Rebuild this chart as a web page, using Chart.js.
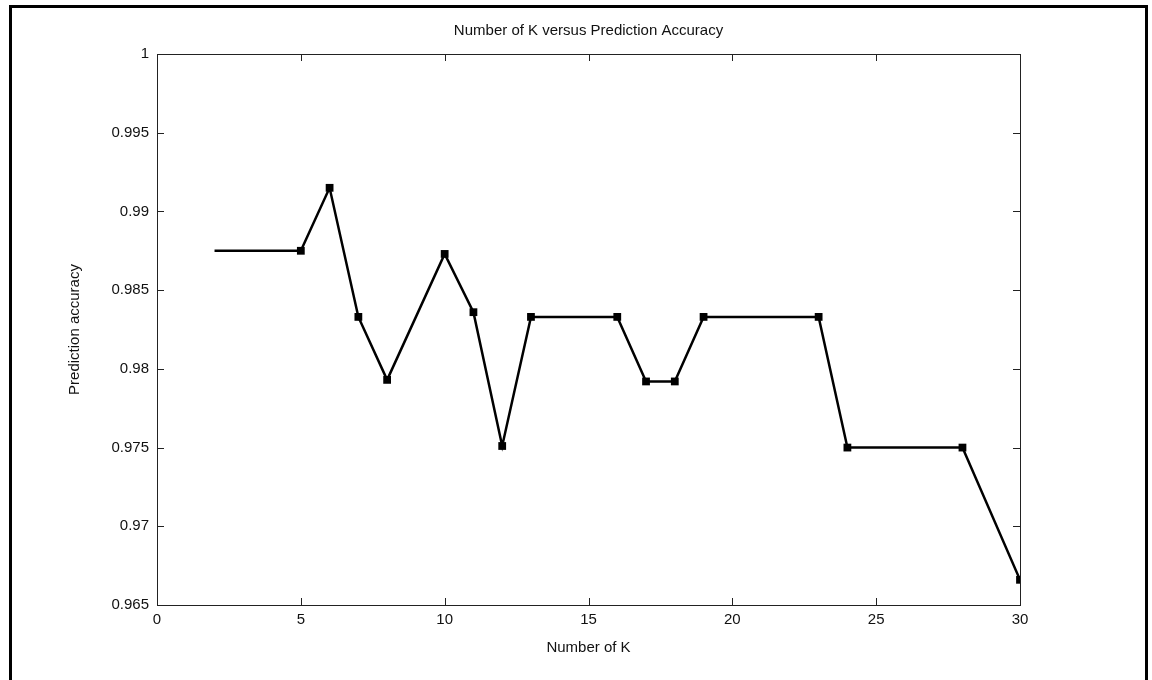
<!DOCTYPE html>
<html>
<head>
<meta charset="utf-8">
<script src="https://cdn.jsdelivr.net/npm/chart.js@4/dist/chart.umd.min.js"></script>
<style>
  html, body { margin: 0; padding: 0; background: #fff; overflow: hidden; }
  #wrap { position: relative; width: 1152px; height: 680px; }
  #frame { position: absolute; left: 9px; top: 5px; width: 1133px; height: 700px; border: 3px solid #000; box-sizing: content-box; pointer-events: none; }
  canvas { position: absolute; left: 0; top: 0; }
</style>
</head>
<body>
<div id="wrap">
  <canvas id="c" width="1152" height="680"></canvas>
  <div id="frame"></div>
</div>
<script>
// K values and the accuracy measured for each
const kValues  = [2, 5, 6, 7, 8, 10, 11, 12, 13, 16, 17, 18, 19, 23, 24, 28, 30];
const accuracy = [0.9875, 0.9875, 0.9915, 0.9833, 0.9793, 0.9873, 0.9836, 0.9751, 0.9833,
                  0.9833, 0.9792, 0.9792, 0.9833, 0.9833, 0.9750, 0.9750, 0.9666];
// first point has no marker
const markerRadius = kValues.map((k, i) => i === 0 ? 0 : 5.5);

const titleText = 'Number of K versus Prediction Accuracy';
const xLabel = 'Number of K';
const yLabel = 'Prediction accuracy';

const FAMILY = '"Liberation Sans", Arial, sans-serif';
const FONT = '15px ' + FAMILY;
const TEXT = '#111';

// boxed axes with inward ticks on all four sides, plus title and axis labels
const matlabAxes = {
  id: 'matlabAxes',
  afterDraw(chart) {
    const { ctx, chartArea: a, scales } = chart;
    ctx.save();
    ctx.strokeStyle = '#222';
    ctx.lineWidth = 1;
    ctx.strokeRect(Math.round(a.left) + 0.5, Math.round(a.top) + 0.5,
                   Math.round(a.right - a.left), Math.round(a.bottom - a.top));
    const tl = 7;
    ctx.beginPath();
    scales.x.ticks.forEach(t => {
      const px = Math.round(scales.x.getPixelForValue(t.value)) + 0.5;
      ctx.moveTo(px, a.bottom); ctx.lineTo(px, a.bottom - tl);
      ctx.moveTo(px, a.top); ctx.lineTo(px, a.top + tl);
    });
    scales.y.ticks.forEach(t => {
      const py = Math.round(scales.y.getPixelForValue(t.value)) + 0.5;
      ctx.moveTo(a.left, py); ctx.lineTo(a.left + tl, py);
      ctx.moveTo(a.right, py); ctx.lineTo(a.right - tl, py);
    });
    ctx.stroke();

    ctx.fillStyle = TEXT;
    ctx.font = FONT;
    ctx.textAlign = 'center';
    ctx.textBaseline = 'middle';
    const cx = (a.left + a.right) / 2;
    ctx.fillText(titleText, cx, 31);
    ctx.fillText(xLabel, cx, 648);
    ctx.translate(75, (a.top + a.bottom) / 2);
    ctx.rotate(-Math.PI / 2);
    ctx.fillText(yLabel, 0, 0);
    ctx.restore();
  }
};

new Chart(document.getElementById('c'), {
  type: 'scatter',
  data: {
    datasets: [{
      data: kValues.map((k, i) => ({ x: k, y: accuracy[i] })),
      showLine: true,
      borderColor: '#000',
      backgroundColor: '#000',
      borderWidth: 2.5,
      pointStyle: 'rect',
      pointRadius: markerRadius,
      pointBorderWidth: 0,
      tension: 0
    }]
  },
  options: {
    responsive: false,
    animation: false,
    devicePixelRatio: 1,
    layout: { padding: { left: 0, top: 54, right: 132, bottom: 0 } },
    plugins: { legend: { display: false }, tooltip: { enabled: false } },
    scales: {
      x: {
        type: 'linear', min: 0, max: 30,
        afterFit: s => { s.height = 75; },
        ticks: { stepSize: 5, color: TEXT, font: { family: FAMILY, size: 15 }, padding: 6, maxRotation: 0 },
        grid: { display: false, drawTicks: false },
        border: { display: false }
      },
      y: {
        type: 'linear', min: 0.965, max: 1,
        afterFit: s => { s.width = 157; },
        ticks: {
          stepSize: 0.005, color: TEXT, padding: 8,
          font: { family: FAMILY, size: 15 },
          callback: v => String(parseFloat(Number(v).toFixed(3)))
        },
        grid: { display: false, drawTicks: false },
        border: { display: false }
      }
    }
  },
  plugins: [matlabAxes]
});
</script>
</body>
</html>
